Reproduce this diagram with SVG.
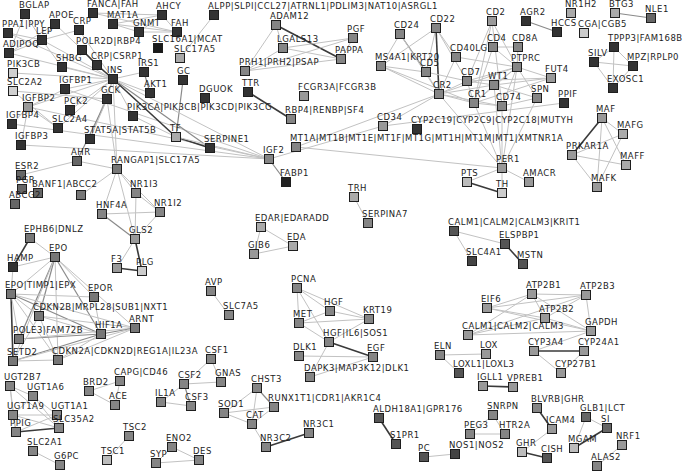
<svg xmlns="http://www.w3.org/2000/svg" width="685" height="472" viewBox="0 0 685 472">
<style>
.bg{fill:#fff}
#edges line{stroke:#c2c2c2;stroke-width:1}
#edges line.m{stroke:#8a8a8a;stroke-width:1.2}
#edges line.k{stroke:#3a3a3a;stroke-width:1.6}
.n rect{x:-4.5px;y:-4.5px;width:9px;height:9px;stroke:#1e1e1e;stroke-width:1}
.d rect{fill:#333}
.m rect{fill:#858585}
.l rect{fill:#bcbcbc}
.n text{font-family:"DejaVu Sans",Verdana,sans-serif;font-size:8.5px;letter-spacing:0.5px;fill:#1c1c1c}
</style>
<rect class="bg" x="0" y="0" width="685" height="472"/>
<g id="edges">
<line x1="25" y1="14" x2="42" y2="40"/><line x1="25" y1="14" x2="9" y2="53"/><line x1="8" y1="33" x2="42" y2="40"/><line x1="8" y1="33" x2="113" y2="79"/>
<line x1="55" y1="24" x2="42" y2="40"/><line x1="55" y1="24" x2="113" y2="79"/><line x1="55" y1="24" x2="9" y2="53"/><line x1="79" y1="30" x2="113" y2="79"/>
<line x1="79" y1="30" x2="42" y2="40"/><line x1="42" y1="40" x2="9" y2="53"/><line x1="42" y1="40" x2="113" y2="79"/><line x1="42" y1="40" x2="62" y2="67"/>
<line x1="9" y1="53" x2="113" y2="79"/><line class="k" x1="82" y1="50" x2="97" y2="65"/><line class="k" x1="97" y1="65" x2="113" y2="79"/><line x1="62" y1="67" x2="113" y2="79"/>
<line x1="13" y1="73" x2="113" y2="79"/><line x1="13" y1="91" x2="107" y2="99"/><line x1="13" y1="91" x2="58" y2="128"/><line x1="65" y1="89" x2="113" y2="79"/>
<line x1="65" y1="89" x2="28" y2="107"/><line x1="28" y1="107" x2="12" y2="124"/><line x1="28" y1="107" x2="21" y2="145"/><line x1="28" y1="107" x2="58" y2="128"/>
<line x1="28" y1="107" x2="113" y2="79"/><line x1="65" y1="89" x2="269" y2="159"/><line x1="28" y1="107" x2="269" y2="159"/><line x1="21" y1="145" x2="269" y2="159"/>
<line x1="12" y1="124" x2="269" y2="159"/><line x1="144" y1="72" x2="113" y2="79"/><line class="m" x1="144" y1="72" x2="150" y2="93"/><line x1="150" y1="93" x2="113" y2="79"/>
<line x1="107" y1="99" x2="113" y2="79"/><line x1="70" y1="110" x2="113" y2="79"/><line x1="133" y1="116" x2="113" y2="79"/><line x1="58" y1="128" x2="113" y2="79"/>
<line x1="90" y1="139" x2="113" y2="79"/><line class="k" x1="113" y1="79" x2="176" y2="137"/><line class="m" x1="113" y1="79" x2="210" y2="148"/><line class="k" x1="176" y1="137" x2="210" y2="148"/>
<line class="m" x1="183" y1="80" x2="176" y2="137"/><line x1="176" y1="137" x2="269" y2="159"/><line x1="113" y1="79" x2="269" y2="159"/><line x1="113" y1="79" x2="117" y2="169"/>
<line x1="107" y1="99" x2="117" y2="169"/><line class="m" x1="107" y1="99" x2="77" y2="161"/><line x1="77" y1="161" x2="21" y2="175"/><line x1="77" y1="161" x2="117" y2="169"/>
<line x1="117" y1="169" x2="81" y2="195"/><line x1="214" y1="15" x2="180" y2="58"/><line x1="93" y1="13" x2="162" y2="15"/><line x1="93" y1="13" x2="177" y2="32"/>
<line x1="113" y1="24" x2="162" y2="15"/><line x1="113" y1="24" x2="139" y2="32"/><line x1="113" y1="24" x2="177" y2="32"/><line x1="162" y1="15" x2="139" y2="32"/>
<line x1="162" y1="15" x2="177" y2="32"/><line x1="139" y1="32" x2="177" y2="32"/><line class="m" x1="269" y1="159" x2="286" y2="182"/><line class="k" x1="248" y1="92" x2="291" y2="119"/>
<line x1="133" y1="116" x2="176" y2="137"/><line x1="90" y1="139" x2="107" y2="99"/>
<line x1="117" y1="169" x2="136" y2="193"/><line x1="117" y1="169" x2="102" y2="214"/><line x1="117" y1="169" x2="135" y2="239"/><line x1="117" y1="169" x2="160" y2="212"/>
<line x1="102" y1="214" x2="160" y2="212"/><line class="m" x1="102" y1="214" x2="135" y2="239"/><line x1="136" y1="193" x2="160" y2="212"/><line x1="136" y1="193" x2="135" y2="239"/>
<line x1="160" y1="212" x2="135" y2="239"/><line x1="135" y1="239" x2="117" y2="268"/><line class="k" x1="135" y1="239" x2="142" y2="271"/><line class="k" x1="117" y1="268" x2="142" y2="271"/>
<line class="k" x1="30" y1="238" x2="13" y2="267"/><line x1="30" y1="238" x2="55" y2="257"/><line x1="13" y1="267" x2="55" y2="257"/><line x1="13" y1="267" x2="11" y2="294"/>
<line x1="55" y1="257" x2="94" y2="297"/><line class="m" x1="55" y1="257" x2="39" y2="316"/><line class="m" x1="55" y1="257" x2="19" y2="339"/><line x1="55" y1="257" x2="13" y2="361"/>
<line class="m" x1="55" y1="257" x2="101" y2="334"/><line x1="55" y1="257" x2="58" y2="360"/><line x1="55" y1="257" x2="135" y2="328"/><line x1="55" y1="257" x2="11" y2="294"/>
<line x1="11" y1="294" x2="94" y2="297"/><line x1="11" y1="294" x2="39" y2="316"/><line class="m" x1="11" y1="294" x2="101" y2="334"/><line class="k" x1="11" y1="294" x2="13" y2="361"/>
<line x1="11" y1="294" x2="19" y2="339"/><line x1="11" y1="294" x2="58" y2="360"/><line x1="11" y1="294" x2="135" y2="328"/><line x1="39" y1="316" x2="101" y2="334"/>
<line x1="39" y1="316" x2="135" y2="328"/><line x1="39" y1="316" x2="13" y2="361"/><line x1="39" y1="316" x2="58" y2="360"/><line class="m" x1="19" y1="339" x2="101" y2="334"/>
<line x1="19" y1="339" x2="135" y2="328"/><line class="m" x1="101" y1="334" x2="135" y2="328"/><line class="m" x1="101" y1="334" x2="13" y2="361"/><line x1="101" y1="334" x2="58" y2="360"/>
<line x1="13" y1="361" x2="135" y2="328"/><line x1="58" y1="360" x2="135" y2="328"/><line x1="94" y1="297" x2="101" y2="334"/><line x1="13" y1="361" x2="58" y2="360"/>
<line class="k" x1="276" y1="25" x2="341" y2="59"/><line x1="276" y1="25" x2="283" y2="48"/><line x1="276" y1="25" x2="245" y2="71"/><line x1="283" y1="48" x2="353" y2="38"/>
<line x1="283" y1="48" x2="341" y2="59"/><line x1="245" y1="71" x2="353" y2="38"/><line x1="245" y1="71" x2="341" y2="59"/><line x1="353" y1="38" x2="341" y2="59"/>
<line x1="245" y1="71" x2="283" y2="48"/>
<line class="m" x1="400" y1="34" x2="426" y2="72"/><line x1="400" y1="34" x2="381" y2="66"/><line x1="400" y1="34" x2="439" y2="94"/><line x1="436" y1="28" x2="381" y2="66"/>
<line x1="436" y1="28" x2="426" y2="72"/><line class="k" x1="436" y1="28" x2="439" y2="94"/><line x1="436" y1="28" x2="456" y2="57"/><line x1="436" y1="28" x2="467" y2="81"/>
<line x1="381" y1="66" x2="426" y2="72"/><line x1="381" y1="66" x2="439" y2="94"/><line x1="381" y1="66" x2="474" y2="103"/><line x1="426" y1="72" x2="439" y2="94"/>
<line x1="426" y1="72" x2="467" y2="81"/><line x1="456" y1="57" x2="517" y2="67"/><line x1="456" y1="57" x2="439" y2="94"/><line x1="439" y1="94" x2="467" y2="81"/>
<line x1="439" y1="94" x2="494" y2="85"/><line x1="439" y1="94" x2="474" y2="103"/><line x1="439" y1="94" x2="502" y2="106"/><line x1="439" y1="94" x2="517" y2="67"/>
<line x1="439" y1="94" x2="502" y2="168"/><line x1="439" y1="94" x2="383" y2="126"/><line x1="439" y1="94" x2="296" y2="147"/><line x1="492" y1="21" x2="467" y2="81"/>
<line x1="492" y1="21" x2="517" y2="67"/><line x1="492" y1="21" x2="474" y2="103"/><line x1="492" y1="21" x2="502" y2="106"/><line x1="493" y1="47" x2="517" y2="67"/>
<line x1="493" y1="47" x2="518" y2="47"/><line x1="493" y1="47" x2="474" y2="103"/><line x1="518" y1="47" x2="517" y2="67"/><line x1="517" y1="67" x2="494" y2="85"/>
<line x1="517" y1="67" x2="502" y2="106"/><line x1="517" y1="67" x2="537" y2="98"/><line x1="517" y1="67" x2="551" y2="78"/><line x1="517" y1="67" x2="474" y2="103"/>
<line x1="517" y1="67" x2="502" y2="168"/><line x1="517" y1="67" x2="467" y2="81"/><line x1="467" y1="81" x2="494" y2="85"/><line x1="467" y1="81" x2="551" y2="78"/>
<line x1="467" y1="81" x2="474" y2="103"/><line x1="494" y1="85" x2="474" y2="103"/><line x1="494" y1="85" x2="551" y2="78"/><line x1="494" y1="85" x2="502" y2="168"/>
<line x1="494" y1="85" x2="537" y2="98"/><line x1="474" y1="103" x2="502" y2="106"/><line x1="474" y1="103" x2="551" y2="78"/><line x1="474" y1="103" x2="502" y2="168"/>
<line x1="502" y1="106" x2="537" y2="98"/><line x1="502" y1="106" x2="502" y2="168"/><line x1="537" y1="98" x2="502" y2="168"/><line x1="383" y1="126" x2="564" y2="103"/>
<line x1="383" y1="126" x2="269" y2="159"/><line x1="296" y1="147" x2="502" y2="168"/><line x1="502" y1="168" x2="467" y2="182"/><line x1="502" y1="168" x2="529" y2="182"/>
<line x1="502" y1="168" x2="502" y2="193"/><line class="k" x1="467" y1="182" x2="502" y2="193"/><line class="m" x1="526" y1="21" x2="557" y2="32"/><line class="m" x1="615" y1="13" x2="651" y2="18"/>
<line x1="614" y1="47" x2="594" y2="62"/><line x1="614" y1="47" x2="633" y2="66"/><line x1="614" y1="47" x2="613" y2="88"/><line x1="594" y1="62" x2="633" y2="66"/>
<line x1="594" y1="62" x2="613" y2="88"/><line x1="633" y1="66" x2="613" y2="88"/>
<line class="k" x1="602" y1="118" x2="572" y2="155"/><line x1="602" y1="118" x2="623" y2="134"/><line x1="602" y1="118" x2="626" y2="165"/><line x1="602" y1="118" x2="597" y2="187"/>
<line x1="623" y1="134" x2="597" y2="187"/><line x1="623" y1="134" x2="572" y2="155"/><line x1="572" y1="155" x2="597" y2="187"/><line x1="572" y1="155" x2="626" y2="165"/>
<line x1="454" y1="231" x2="505" y2="244"/><line x1="454" y1="231" x2="472" y2="261"/><line class="k" x1="505" y1="244" x2="523" y2="264"/>
<line x1="487" y1="308" x2="532" y2="294"/><line x1="487" y1="308" x2="586" y2="295"/><line x1="487" y1="308" x2="591" y2="331"/><line x1="532" y1="294" x2="586" y2="295"/>
<line x1="532" y1="294" x2="545" y2="318"/><line x1="532" y1="294" x2="591" y2="331"/><line x1="532" y1="294" x2="468" y2="335"/><line x1="586" y1="295" x2="591" y2="331"/>
<line x1="586" y1="295" x2="468" y2="335"/><line x1="586" y1="295" x2="545" y2="318"/><line x1="545" y1="318" x2="591" y2="331"/><line x1="545" y1="318" x2="468" y2="335"/>
<line x1="468" y1="335" x2="591" y2="331"/><line x1="487" y1="308" x2="545" y2="318"/><line x1="591" y1="331" x2="534" y2="351"/><line class="k" x1="534" y1="351" x2="584" y2="351"/>
<line x1="534" y1="351" x2="561" y2="373"/><line x1="584" y1="351" x2="561" y2="373"/><line x1="440" y1="355" x2="486" y2="354"/><line x1="440" y1="355" x2="459" y2="373"/>
<line class="k" x1="483" y1="386" x2="513" y2="387"/><line class="k" x1="537" y1="408" x2="552" y2="429"/><line x1="552" y1="429" x2="522" y2="452"/><line class="k" x1="522" y1="452" x2="547" y2="458"/>
<line x1="493" y1="415" x2="470" y2="434"/><line x1="493" y1="415" x2="505" y2="434"/><line x1="470" y1="434" x2="505" y2="434"/><line x1="586" y1="417" x2="574" y2="448"/>
<line x1="586" y1="417" x2="607" y2="428"/><line class="k" x1="607" y1="428" x2="574" y2="448"/><line x1="622" y1="445" x2="597" y2="466"/><line x1="424" y1="457" x2="455" y2="454"/>
<line class="k" x1="379" y1="418" x2="396" y2="444"/><line class="k" x1="309" y1="433" x2="266" y2="447"/>
<line x1="257" y1="388" x2="224" y2="413"/><line x1="257" y1="388" x2="252" y2="424"/><line class="m" x1="257" y1="388" x2="274" y2="407"/><line x1="224" y1="413" x2="274" y2="407"/>
<line x1="224" y1="413" x2="252" y2="424"/><line x1="252" y1="424" x2="266" y2="447"/><line x1="252" y1="424" x2="274" y2="407"/>
<line x1="297" y1="288" x2="330" y2="311"/><line x1="297" y1="288" x2="369" y2="319"/><line x1="297" y1="288" x2="299" y2="323"/><line x1="297" y1="288" x2="329" y2="342"/>
<line x1="299" y1="323" x2="330" y2="311"/><line x1="299" y1="323" x2="369" y2="319"/><line x1="299" y1="323" x2="329" y2="342"/><line x1="330" y1="311" x2="369" y2="319"/>
<line x1="329" y1="342" x2="369" y2="319"/><line class="k" x1="329" y1="342" x2="373" y2="357"/><line x1="329" y1="342" x2="310" y2="377"/><line x1="299" y1="356" x2="373" y2="357"/>
<line x1="310" y1="377" x2="373" y2="357"/>
<line x1="211" y1="359" x2="184" y2="384"/><line x1="211" y1="359" x2="221" y2="382"/><line x1="184" y1="384" x2="221" y2="382"/><line x1="184" y1="384" x2="161" y2="402"/>
<line class="m" x1="184" y1="384" x2="191" y2="406"/><line x1="161" y1="402" x2="191" y2="406"/><line x1="89" y1="391" x2="120" y2="381"/><line x1="89" y1="391" x2="115" y2="405"/>
<line x1="120" y1="381" x2="115" y2="405"/><line x1="129" y1="436" x2="107" y2="460"/><line x1="172" y1="447" x2="156" y2="463"/><line x1="172" y1="447" x2="199" y2="460"/>
<line x1="156" y1="463" x2="199" y2="460"/><line x1="33" y1="451" x2="60" y2="465"/>
<line x1="10" y1="386" x2="33" y2="396"/><line x1="10" y1="386" x2="13" y2="415"/><line x1="10" y1="386" x2="16" y2="432"/><line x1="10" y1="386" x2="59" y2="428"/>
<line x1="33" y1="396" x2="13" y2="415"/><line x1="33" y1="396" x2="57" y2="415"/><line x1="33" y1="396" x2="59" y2="428"/><line x1="13" y1="415" x2="57" y2="415"/>
<line x1="13" y1="415" x2="16" y2="432"/><line x1="13" y1="415" x2="59" y2="428"/><line x1="57" y1="415" x2="59" y2="428"/><line class="k" x1="16" y1="432" x2="59" y2="428"/>
<line x1="16" y1="432" x2="57" y2="415"/>
<line x1="211" y1="291" x2="229" y2="315"/><line x1="354" y1="197" x2="368" y2="223"/><line x1="261" y1="227" x2="293" y2="246"/><line x1="261" y1="227" x2="254" y2="254"/>
<line x1="254" y1="254" x2="293" y2="246"/>
</g>
<g id="n_BGLAP" class="n d" transform="translate(25,14)"><rect/><text x="-6" y="-6">BGLAP</text></g>
<g id="n_FANCA" class="n d" transform="translate(93,13)"><rect/><text x="-6" y="-6">FANCA|FAH</text></g>
<g id="n_AHCY" class="n d" transform="translate(162,15)"><rect/><text x="-6" y="-6">AHCY</text></g>
<g id="n_MAT1A" class="n d" transform="translate(113,24)"><rect/><text x="-6" y="-6">MAT1A</text></g>
<g id="n_GNMT" class="n d" transform="translate(139,32)"><rect/><text x="-6" y="-6">GNMT</text></g>
<g id="n_FAH" class="n d" transform="translate(177,32)"><rect/><text x="-6" y="-6">FAH</text></g>
<g id="n_ALPP" class="n d" transform="translate(214,15)"><rect/><text x="-6" y="-6">ALPP|SLPI|CCL27|ATRNL1|PDLIM3|NAT10|ASRGL1</text></g>
<g id="n_APOE" class="n d" transform="translate(55,24)"><rect/><text x="-6" y="-6">APOE</text></g>
<g id="n_PPA1" class="n d" transform="translate(8,33)"><rect/><text x="-6" y="-6">PPA1|PPY</text></g>
<g id="n_CRP" class="n d" transform="translate(79,30)"><rect/><text x="-6" y="-6">CRP</text></g>
<g id="n_LEP" class="n d" transform="translate(42,40)"><rect/><text x="-6" y="-6">LEP</text></g>
<g id="n_ADIPOQ" class="n d" transform="translate(9,53)"><rect/><text x="-6" y="-6">ADIPOQ</text></g>
<g id="n_POLR2D" class="n d" transform="translate(82,50)"><rect/><text x="-6" y="-6">POLR2D|RBP4</text></g>
<g id="n_SLC16A1" class="n d" transform="translate(158,48)"><rect style="fill:#1a1a1a"/><text x="-6" y="-6">SLC16A1|MCAT</text></g>
<g id="n_SLC17A5" class="n l" transform="translate(180,58)"><rect style="fill:#a8a8a8"/><text x="-6" y="-6">SLC17A5</text></g>
<g id="n_SHBG" class="n d" transform="translate(62,67)"><rect/><text x="-6" y="-6">SHBG</text></g>
<g id="n_CRPCSRP1" class="n d" transform="translate(97,65)"><rect/><text x="-6" y="-6">CRP|CSRP1</text></g>
<g id="n_PIK3CB" class="n l" transform="translate(13,73)"><rect style="fill:#cfcfcf"/><text x="-6" y="-6">PIK3CB</text></g>
<g id="n_INS" class="n d" transform="translate(113,79)"><rect/><text x="-6" y="-6">INS</text></g>
<g id="n_IRS1" class="n d" transform="translate(144,72)"><rect/><text x="-6" y="-6">IRS1</text></g>
<g id="n_SLC2A2" class="n l" transform="translate(13,91)"><rect style="fill:#cfcfcf"/><text x="-6" y="-6">SLC2A2</text></g>
<g id="n_IGFBP1" class="n d" transform="translate(65,89)"><rect/><text x="-6" y="-6">IGFBP1</text></g>
<g id="n_GC" class="n d" transform="translate(183,80)"><rect/><text x="-6" y="-6">GC</text></g>
<g id="n_GCK" class="n d" transform="translate(107,99)"><rect/><text x="-6" y="-6">GCK</text></g>
<g id="n_AKT1" class="n d" transform="translate(150,93)"><rect/><text x="-6" y="-6">AKT1</text></g>
<g id="n_IGFBP2" class="n m" transform="translate(28,107)"><rect style="fill:#999"/><text x="-6" y="-6">IGFBP2</text></g>
<g id="n_DGUOK" class="n d" transform="translate(205,98)"><rect/><text x="-6" y="-6">DGUOK</text></g>
<g id="n_PCK2" class="n d" transform="translate(70,110)"><rect/><text x="-6" y="-6">PCK2</text></g>
<g id="n_PIK3CA" class="n d" transform="translate(133,116)"><rect/><text x="-6" y="-6">PIK3CA|PIK3CB|PIK3CD|PIK3CG</text></g>
<g id="n_IGFBP4" class="n d" transform="translate(12,124)"><rect/><text x="-6" y="-6">IGFBP4</text></g>
<g id="n_SLC2A4" class="n d" transform="translate(58,128)"><rect/><text x="-6" y="-6">SLC2A4</text></g>
<g id="n_STAT5A" class="n d" transform="translate(90,139)"><rect/><text x="-6" y="-6">STAT5A|STAT5B</text></g>
<g id="n_IGFBP3" class="n d" transform="translate(21,145)"><rect/><text x="-6" y="-6">IGFBP3</text></g>
<g id="n_TF" class="n l" transform="translate(176,137)"><rect style="fill:#aaa"/><text x="-6" y="-6">TF</text></g>
<g id="n_SERPINE1" class="n d" transform="translate(210,148)"><rect/><text x="-6" y="-6">SERPINE1</text></g>
<g id="n_AHR" class="n m" transform="translate(77,161)"><rect style="fill:#666"/><text x="-6" y="-6">AHR</text></g>
<g id="n_RANGAP1" class="n m" transform="translate(117,169)"><rect style="fill:#777"/><text x="-6" y="-6">RANGAP1|SLC17A5</text></g>
<g id="n_ESR2" class="n m" transform="translate(21,175)"><rect style="fill:#666"/><text x="-6" y="-6">ESR2</text></g>
<g id="n_PGR" class="n m" transform="translate(22,189)"><rect style="fill:#666"/><text x="-6" y="-6">PGR</text></g>
<g id="n_BANF1" class="n m" transform="translate(38,193)"><rect style="fill:#666"/><text x="-6" y="-6">BANF1|ABCC2</text></g>
<g id="n_X81" class="n m" transform="translate(81,195)"><rect style="fill:#777"/></g>
<g id="n_ABCG2" class="n m" transform="translate(15,204)"><rect style="fill:#666"/><text x="-6" y="-6">ABCG2</text></g>
<g id="n_NR1I3" class="n m" transform="translate(136,193)"><rect/><text x="-6" y="-6">NR1I3</text></g>
<g id="n_HNF4A" class="n m" transform="translate(102,214)"><rect/><text x="-6" y="-6">HNF4A</text></g>
<g id="n_NR1I2" class="n m" transform="translate(160,212)"><rect/><text x="-6" y="-6">NR1I2</text></g>
<g id="n_GLS2" class="n m" transform="translate(135,239)"><rect style="fill:#999"/><text x="-6" y="-6">GLS2</text></g>
<g id="n_EPHB6" class="n m" transform="translate(30,238)"><rect style="fill:#777"/><text x="-6" y="-6">EPHB6|DNLZ</text></g>
<g id="n_EPO" class="n m" transform="translate(55,257)"><rect style="fill:#777"/><text x="-6" y="-6">EPO</text></g>
<g id="n_HAMP" class="n d" transform="translate(13,267)"><rect/><text x="-6" y="-6">HAMP</text></g>
<g id="n_F3" class="n m" transform="translate(117,268)"><rect style="fill:#999"/><text x="-6" y="-6">F3</text></g>
<g id="n_PLG" class="n l" transform="translate(142,271)"><rect style="fill:#ccc"/><text x="-6" y="-6">PLG</text></g>
<g id="n_EPOTIMP1" class="n m" transform="translate(11,294)"><rect style="fill:#777"/><text x="-6" y="-6">EPO|TIMP1|EPX</text></g>
<g id="n_EPOR" class="n m" transform="translate(94,297)"><rect style="fill:#777"/><text x="-6" y="-6">EPOR</text></g>
<g id="n_AVP" class="n m" transform="translate(211,291)"><rect/><text x="-6" y="-6">AVP</text></g>
<g id="n_CDKN2B" class="n m" transform="translate(39,316)"><rect style="fill:#777"/><text x="-6" y="-6">CDKN2B|MRPL28|SUB1|NXT1</text></g>
<g id="n_ARNT" class="n m" transform="translate(135,328)"><rect style="fill:#777"/><text x="-6" y="-6">ARNT</text></g>
<g id="n_POLE3" class="n m" transform="translate(19,339)"><rect style="fill:#777"/><text x="-6" y="-6">POLE3|FAM72B</text></g>
<g id="n_HIF1A" class="n m" transform="translate(101,334)"><rect style="fill:#777"/><text x="-6" y="-6">HIF1A</text></g>
<g id="n_SETD2" class="n m" transform="translate(13,361)"><rect style="fill:#777"/><text x="-6" y="-6">SETD2</text></g>
<g id="n_CDKN2A" class="n m" transform="translate(58,360)"><rect style="fill:#777"/><text x="-6" y="-6">CDKN2A|CDKN2D|REG1A|IL23A</text></g>
<g id="n_CSF1" class="n m" transform="translate(211,359)"><rect/><text x="-6" y="-6">CSF1</text></g>
<g id="n_UGT2B7" class="n m" transform="translate(10,386)"><rect/><text x="-6" y="-6">UGT2B7</text></g>
<g id="n_CAPG" class="n m" transform="translate(120,381)"><rect/><text x="-6" y="-6">CAPG|CD46</text></g>
<g id="n_CSF2" class="n m" transform="translate(184,384)"><rect/><text x="-6" y="-6">CSF2</text></g>
<g id="n_GNAS" class="n m" transform="translate(221,382)"><rect/><text x="-6" y="-6">GNAS</text></g>
<g id="n_BRD2" class="n m" transform="translate(89,391)"><rect/><text x="-6" y="-6">BRD2</text></g>
<g id="n_UGT1A6" class="n m" transform="translate(33,396)"><rect/><text x="-6" y="-6">UGT1A6</text></g>
<g id="n_IL1A" class="n m" transform="translate(161,402)"><rect/><text x="-6" y="-6">IL1A</text></g>
<g id="n_ACE" class="n m" transform="translate(115,405)"><rect/><text x="-6" y="-6">ACE</text></g>
<g id="n_CSF3" class="n m" transform="translate(191,406)"><rect/><text x="-6" y="-6">CSF3</text></g>
<g id="n_UGT1A9" class="n m" transform="translate(13,415)"><rect/><text x="-6" y="-6">UGT1A9</text></g>
<g id="n_UGT1A1" class="n m" transform="translate(57,415)"><rect/><text x="-6" y="-6">UGT1A1</text></g>
<g id="n_PPIG" class="n m" transform="translate(16,432)"><rect/><text x="-6" y="-6">PPIG</text></g>
<g id="n_SLC35A2" class="n m" transform="translate(59,428)"><rect/><text x="-6" y="-6">SLC35A2</text></g>
<g id="n_TSC2" class="n m" transform="translate(129,436)"><rect/><text x="-6" y="-6">TSC2</text></g>
<g id="n_SLC2A1" class="n m" transform="translate(33,451)"><rect/><text x="-6" y="-6">SLC2A1</text></g>
<g id="n_ENO2" class="n m" transform="translate(172,447)"><rect/><text x="-6" y="-6">ENO2</text></g>
<g id="n_DES" class="n m" transform="translate(199,460)"><rect/><text x="-6" y="-6">DES</text></g>
<g id="n_TSC1" class="n l" transform="translate(107,460)"><rect/><text x="-6" y="-6">TSC1</text></g>
<g id="n_SYP" class="n m" transform="translate(156,463)"><rect/><text x="-6" y="-6">SYP</text></g>
<g id="n_G6PC" class="n m" transform="translate(60,465)"><rect/><text x="-6" y="-6">G6PC</text></g>
<g id="n_SLC7A5" class="n m" transform="translate(229,315)"><rect/><text x="-6" y="-6">SLC7A5</text></g>
<g id="n_ADAM12" class="n m" transform="translate(276,25)"><rect/><text x="-6" y="-6">ADAM12</text></g>
<g id="n_PGF" class="n m" transform="translate(353,38)"><rect/><text x="-6" y="-6">PGF</text></g>
<g id="n_LGALS13" class="n m" transform="translate(283,48)"><rect/><text x="-6" y="-6">LGALS13</text></g>
<g id="n_PAPPA" class="n m" transform="translate(341,59)"><rect/><text x="-6" y="-6">PAPPA</text></g>
<g id="n_PRH1" class="n m" transform="translate(245,71)"><rect/><text x="-6" y="-6">PRH1|PRH2|PSAP</text></g>
<g id="n_TTR" class="n d" transform="translate(248,92)"><rect/><text x="-6" y="-6">TTR</text></g>
<g id="n_FCGR3A" class="n m" transform="translate(304,96)"><rect style="fill:#999"/><text x="-6" y="-6">FCGR3A|FCGR3B</text></g>
<g id="n_RBP4" class="n m" transform="translate(291,119)"><rect/><text x="-6" y="-6">RBP4|RENBP|SF4</text></g>
<g id="n_CD34" class="n m" transform="translate(383,126)"><rect style="fill:#999"/><text x="-6" y="-6">CD34</text></g>
<g id="n_CYP2C19" class="n d" transform="translate(417,129)"><rect/><text x="-6" y="-6">CYP2C19|CYP2C9|CYP2C18|MUTYH</text></g>
<g id="n_MT1A" class="n m" transform="translate(296,147)"><rect/><text x="-6" y="-6">MT1A|MT1B|MT1E|MT1F|MT1G|MT1H|MT1M|MT1|XMTNR1A</text></g>
<g id="n_IGF2" class="n m" transform="translate(269,159)"><rect/><text x="-6" y="-6">IGF2</text></g>
<g id="n_FABP1" class="n d" transform="translate(286,182)"><rect style="fill:#222"/><text x="-6" y="-6">FABP1</text></g>
<g id="n_TRH" class="n l" transform="translate(354,197)"><rect style="fill:#aaa"/><text x="-6" y="-6">TRH</text></g>
<g id="n_SERPINA7" class="n m" transform="translate(368,223)"><rect/><text x="-6" y="-6">SERPINA7</text></g>
<g id="n_EDAR" class="n l" transform="translate(261,227)"><rect style="fill:#aaa"/><text x="-6" y="-6">EDAR|EDARADD</text></g>
<g id="n_EDA" class="n l" transform="translate(293,246)"><rect style="fill:#aaa"/><text x="-6" y="-6">EDA</text></g>
<g id="n_GJB6" class="n m" transform="translate(254,254)"><rect style="fill:#999"/><text x="-6" y="-6">GJB6</text></g>
<g id="n_PCNA" class="n m" transform="translate(297,288)"><rect/><text x="-6" y="-6">PCNA</text></g>
<g id="n_HGF" class="n m" transform="translate(330,311)"><rect/><text x="-6" y="-6">HGF</text></g>
<g id="n_KRT19" class="n m" transform="translate(369,319)"><rect/><text x="-6" y="-6">KRT19</text></g>
<g id="n_MET" class="n m" transform="translate(299,323)"><rect/><text x="-6" y="-6">MET</text></g>
<g id="n_HGFIL6" class="n m" transform="translate(329,342)"><rect/><text x="-6" y="-6">HGF|IL6|SOS1</text></g>
<g id="n_DLK1" class="n m" transform="translate(299,356)"><rect/><text x="-6" y="-6">DLK1</text></g>
<g id="n_EGF" class="n m" transform="translate(373,357)"><rect/><text x="-6" y="-6">EGF</text></g>
<g id="n_DAPK3" class="n m" transform="translate(310,377)"><rect/><text x="-6" y="-6">DAPK3|MAP3K12|DLK1</text></g>
<g id="n_CHST3" class="n m" transform="translate(257,388)"><rect/><text x="-6" y="-6">CHST3</text></g>
<g id="n_SOD1" class="n m" transform="translate(224,413)"><rect/><text x="-6" y="-6">SOD1</text></g>
<g id="n_RUNX1T1" class="n m" transform="translate(274,407)"><rect/><text x="-6" y="-6">RUNX1T1|CDR1|AKR1C4</text></g>
<g id="n_CAT" class="n m" transform="translate(252,424)"><rect/><text x="-6" y="-6">CAT</text></g>
<g id="n_NR3C1" class="n m" transform="translate(309,433)"><rect/><text x="-6" y="-6">NR3C1</text></g>
<g id="n_NR3C2" class="n m" transform="translate(266,447)"><rect/><text x="-6" y="-6">NR3C2</text></g>
<g id="n_ALDH18A1" class="n d" transform="translate(379,418)"><rect style="fill:#555"/><text x="-6" y="-6">ALDH18A1|GPR176</text></g>
<g id="n_S1PR1" class="n d" transform="translate(396,444)"><rect style="fill:#555"/><text x="-6" y="-6">S1PR1</text></g>
<g id="n_PC" class="n d" transform="translate(424,457)"><rect style="fill:#555"/><text x="-6" y="-6">PC</text></g>
<g id="n_MS4A1" class="n m" transform="translate(381,66)"><rect/><text x="-6" y="-6">MS4A1|KRT20</text></g>
<g id="n_CD24" class="n m" transform="translate(400,34)"><rect/><text x="-6" y="-6">CD24</text></g>
<g id="n_CD22" class="n m" transform="translate(436,28)"><rect/><text x="-6" y="-6">CD22</text></g>
<g id="n_CD5" class="n m" transform="translate(426,72)"><rect/><text x="-6" y="-6">CD5</text></g>
<g id="n_CR2" class="n m" transform="translate(439,94)"><rect/><text x="-6" y="-6">CR2</text></g>
<g id="n_CD40LG" class="n m" transform="translate(456,57)"><rect/><text x="-6" y="-6">CD40LG</text></g>
<g id="n_CD2" class="n m" transform="translate(492,21)"><rect style="fill:#999"/><text x="-6" y="-6">CD2</text></g>
<g id="n_AGR2" class="n d" transform="translate(526,21)"><rect/><text x="-6" y="-6">AGR2</text></g>
<g id="n_CD4" class="n m" transform="translate(493,47)"><rect/><text x="-6" y="-6">CD4</text></g>
<g id="n_CD8A" class="n m" transform="translate(518,47)"><rect/><text x="-6" y="-6">CD8A</text></g>
<g id="n_PTPRC" class="n m" transform="translate(517,67)"><rect/><text x="-6" y="-6">PTPRC</text></g>
<g id="n_CD7" class="n m" transform="translate(467,81)"><rect/><text x="-6" y="-6">CD7</text></g>
<g id="n_WT1" class="n m" transform="translate(494,85)"><rect/><text x="-6" y="-6">WT1</text></g>
<g id="n_CR1" class="n m" transform="translate(474,103)"><rect/><text x="-6" y="-6">CR1</text></g>
<g id="n_CD74" class="n m" transform="translate(502,106)"><rect/><text x="-6" y="-6">CD74</text></g>
<g id="n_SPN" class="n m" transform="translate(537,98)"><rect/><text x="-6" y="-6">SPN</text></g>
<g id="n_FUT4" class="n m" transform="translate(551,78)"><rect style="fill:#999"/><text x="-6" y="-6">FUT4</text></g>
<g id="n_PPIF" class="n d" transform="translate(564,103)"><rect/><text x="-6" y="-6">PPIF</text></g>
<g id="n_NR1H2" class="n l" transform="translate(571,13)"><rect style="fill:#aaa"/><text x="-6" y="-6">NR1H2</text></g>
<g id="n_BTG3" class="n l" transform="translate(615,13)"><rect style="fill:#aaa"/><text x="-6" y="-6">BTG3</text></g>
<g id="n_NLE1" class="n m" transform="translate(651,18)"><rect style="fill:#666"/><text x="-6" y="-6">NLE1</text></g>
<g id="n_HCCS" class="n d" transform="translate(557,32)"><rect/><text x="-6" y="-6">HCCS</text></g>
<g id="n_CGA" class="n l" transform="translate(584,33)"><rect style="fill:#ccc"/><text x="-6" y="-6">CGA|CGB5</text></g>
<g id="n_TPPP3" class="n d" transform="translate(614,47)"><rect/><text x="-6" y="-6">TPPP3|FAM168B</text></g>
<g id="n_SILV" class="n d" transform="translate(594,62)"><rect/><text x="-6" y="-6">SILV</text></g>
<g id="n_MPZ" class="n d" transform="translate(633,66)"><rect/><text x="-6" y="-6">MPZ|RPLP0</text></g>
<g id="n_EXOSC1" class="n d" transform="translate(613,88)"><rect/><text x="-6" y="-6">EXOSC1</text></g>
<g id="n_MAF" class="n m" transform="translate(602,118)"><rect style="fill:#999"/><text x="-6" y="-6">MAF</text></g>
<g id="n_MAFG" class="n l" transform="translate(623,134)"><rect style="fill:#aaa"/><text x="-6" y="-6">MAFG</text></g>
<g id="n_PRKAR1A" class="n m" transform="translate(572,155)"><rect style="fill:#999"/><text x="-6" y="-6">PRKAR1A</text></g>
<g id="n_MAFF" class="n l" transform="translate(626,165)"><rect style="fill:#aaa"/><text x="-6" y="-6">MAFF</text></g>
<g id="n_MAFK" class="n m" transform="translate(597,187)"><rect style="fill:#999"/><text x="-6" y="-6">MAFK</text></g>
<g id="n_PER1" class="n m" transform="translate(502,168)"><rect style="fill:#999"/><text x="-6" y="-6">PER1</text></g>
<g id="n_PTS" class="n l" transform="translate(467,182)"><rect/><text x="-6" y="-6">PTS</text></g>
<g id="n_AMACR" class="n m" transform="translate(529,182)"><rect style="fill:#999"/><text x="-6" y="-6">AMACR</text></g>
<g id="n_TH" class="n l" transform="translate(502,193)"><rect style="fill:#ccc"/><text x="-6" y="-6">TH</text></g>
<g id="n_CALMK" class="n d" transform="translate(454,231)"><rect style="fill:#555"/><text x="-6" y="-6">CALM1|CALM2|CALM3|KRIT1</text></g>
<g id="n_ELSPBP1" class="n d" transform="translate(505,244)"><rect style="fill:#555"/><text x="-6" y="-6">ELSPBP1</text></g>
<g id="n_SLC4A1" class="n d" transform="translate(472,261)"><rect style="fill:#444"/><text x="-6" y="-6">SLC4A1</text></g>
<g id="n_MSTN" class="n d" transform="translate(523,264)"><rect style="fill:#555"/><text x="-6" y="-6">MSTN</text></g>
<g id="n_ATP2B1" class="n m" transform="translate(532,294)"><rect style="fill:#999"/><text x="-6" y="-6">ATP2B1</text></g>
<g id="n_ATP2B3" class="n m" transform="translate(586,295)"><rect style="fill:#999"/><text x="-6" y="-6">ATP2B3</text></g>
<g id="n_EIF6" class="n m" transform="translate(487,308)"><rect style="fill:#999"/><text x="-6" y="-6">EIF6</text></g>
<g id="n_ATP2B2" class="n m" transform="translate(545,318)"><rect style="fill:#999"/><text x="-6" y="-6">ATP2B2</text></g>
<g id="n_CALM3" class="n m" transform="translate(468,335)"><rect style="fill:#999"/><text x="-6" y="-6">CALM1|CALM2|CALM3</text></g>
<g id="n_GAPDH" class="n m" transform="translate(591,331)"><rect style="fill:#999"/><text x="-6" y="-6">GAPDH</text></g>
<g id="n_LOX" class="n m" transform="translate(486,354)"><rect style="fill:#999"/><text x="-6" y="-6">LOX</text></g>
<g id="n_CYP3A4" class="n m" transform="translate(534,351)"><rect style="fill:#999"/><text x="-6" y="-6">CYP3A4</text></g>
<g id="n_CYP24A1" class="n m" transform="translate(584,351)"><rect style="fill:#999"/><text x="-6" y="-6">CYP24A1</text></g>
<g id="n_ELN" class="n m" transform="translate(440,355)"><rect/><text x="-6" y="-6">ELN</text></g>
<g id="n_LOXL1" class="n d" transform="translate(459,373)"><rect style="fill:#555"/><text x="-6" y="-6">LOXL1|LOXL3</text></g>
<g id="n_CYP27B1" class="n m" transform="translate(561,373)"><rect style="fill:#999"/><text x="-6" y="-6">CYP27B1</text></g>
<g id="n_IGLL1" class="n m" transform="translate(483,386)"><rect style="fill:#999"/><text x="-6" y="-6">IGLL1</text></g>
<g id="n_VPREB1" class="n m" transform="translate(513,387)"><rect style="fill:#999"/><text x="-6" y="-6">VPREB1</text></g>
<g id="n_BLVRB" class="n m" transform="translate(537,408)"><rect/><text x="-6" y="-6">BLVRB|GHR</text></g>
<g id="n_SNRPN" class="n m" transform="translate(493,415)"><rect/><text x="-6" y="-6">SNRPN</text></g>
<g id="n_GLB1" class="n d" transform="translate(586,417)"><rect style="fill:#666"/><text x="-6" y="-6">GLB1|LCT</text></g>
<g id="n_ICAM4" class="n m" transform="translate(552,429)"><rect style="fill:#999"/><text x="-6" y="-6">ICAM4</text></g>
<g id="n_SI" class="n d" transform="translate(607,428)"><rect style="fill:#666"/><text x="-6" y="-6">SI</text></g>
<g id="n_PEG3" class="n m" transform="translate(470,434)"><rect/><text x="-6" y="-6">PEG3</text></g>
<g id="n_HTR2A" class="n m" transform="translate(505,434)"><rect/><text x="-6" y="-6">HTR2A</text></g>
<g id="n_NRF1" class="n m" transform="translate(622,445)"><rect style="fill:#999"/><text x="-6" y="-6">NRF1</text></g>
<g id="n_NOS1" class="n d" transform="translate(455,454)"><rect style="fill:#444"/><text x="-6" y="-6">NOS1|NOS2</text></g>
<g id="n_GHR" class="n l" transform="translate(522,452)"><rect/><text x="-6" y="-6">GHR</text></g>
<g id="n_MGAM" class="n l" transform="translate(574,448)"><rect/><text x="-6" y="-6">MGAM</text></g>
<g id="n_CISH" class="n d" transform="translate(547,458)"><rect style="fill:#555"/><text x="-6" y="-6">CISH</text></g>
<g id="n_ALAS2" class="n m" transform="translate(597,466)"><rect/><text x="-6" y="-6">ALAS2</text></g>
</svg>
